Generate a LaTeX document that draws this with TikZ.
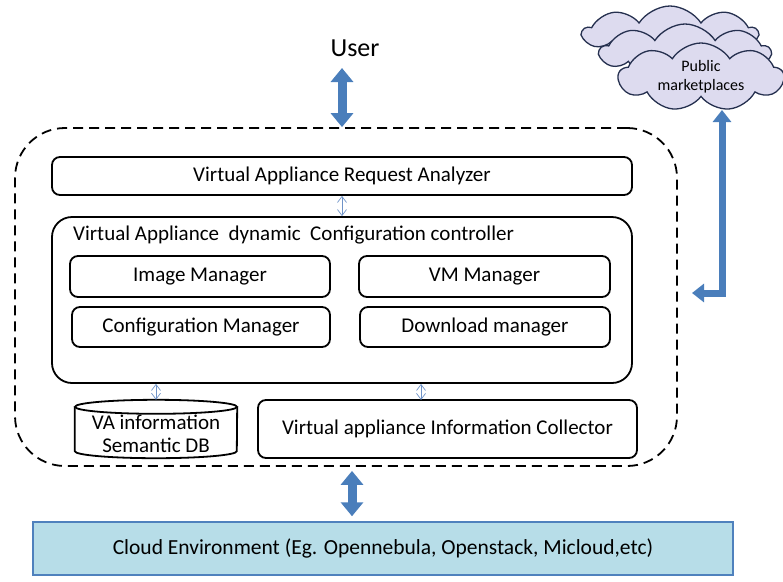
\documentclass[tikz,border=0pt]{standalone}
\usepackage{fontspec}
\setmainfont{Carlito}
\usetikzlibrary{arrows.meta, positioning, shapes.symbols, calc}
\definecolor{arrblue}{HTML}{4A7EBB}
\definecolor{thinblue}{HTML}{6F93C8}
\definecolor{envfill}{HTML}{B7DDE8}
\definecolor{envline}{HTML}{4F81BD}
\definecolor{cloudfill}{HTML}{DDDBEF}
\definecolor{cloudline}{HTML}{25304F}
\tikzset{
  box/.style={draw, line width=1.8pt, rounded corners=8pt, inner sep=0pt,
    font=\fontsize{21}{24}\selectfont},
  fat/.style={draw=arrblue, line width=9pt,
    {Triangle[width=22pt,length=14pt]}-{Triangle[width=22pt,length=14pt]}},
  fatside/.style={draw=arrblue, line width=7pt,
    {Triangle[width=18pt,length=12pt]}-{Triangle[width=18pt,length=12pt]}},
  thinarr/.style={draw=thinblue, line width=0.7pt,
    {Straight Barb[width=9pt,length=6pt]}-{Straight Barb[width=9pt,length=6pt]}},
  puff/.style={cloud, cloud puffs=9, cloud puff arc=115, cloud ignores aspect,
    draw=cloudline, line width=1.3pt, fill=cloudfill, inner sep=0pt}
}
\begin{document}
\begin{tikzpicture}[x=1pt,y=-1pt]
\useasboundingbox (0,0) rectangle (783,581);
    % user and outer frame
    \node[font=\fontsize{26}{30}\selectfont] (nuser) at (355,48) {User};
    \node[draw, dashed, dash pattern=on 10pt off 6pt, line width=1.8pt,
      rounded corners=50pt, minimum width=662, minimum height=338] (nframe) at (346,297) {};
    % analyzer and controller
    \node[box, minimum width=580, minimum height=38] (nanalyzer) at (342,176)
      {Virtual Appliance Request Analyzer};
    \node[box, rounded corners=20pt, minimum width=580, minimum height=166] (nctrl) at (342,300) {};
    \node[anchor=west, font=\fontsize{21}{24}\selectfont, inner sep=0pt] (ntitle) at (73,235)
      {Virtual Appliance~ dynamic~ Configuration controller};
    \node[box, minimum width=260, minimum height=41] (nimg) at (200,276.5) {Image Manager};
    \node[box, minimum width=251, minimum height=41] (nvm) at (484.5,276.5) {VM Manager};
    \node[box, minimum width=258, minimum height=40] (ncfg) at (201,327) {Configuration Manager};
    \node[box, minimum width=250, minimum height=40] (ndl) at (485,327) {Download manager};
    % database and collector
    \node[inner sep=0pt, minimum width=162, minimum height=58] (ndb) at (156,429) {};
    \draw[line width=1.8pt] ($(ndb.north west)+(0,7)$) -- ($(ndb.south west)+(0,-7)$)
      arc[start angle=180, end angle=0, x radius=81, y radius=7]
      -- ($(ndb.north east)+(0,7)$);
    \draw[line width=1.8pt] ($(ndb.north)+(0,7)$) ellipse [x radius=81, y radius=7];
    \node[align=center, font=\fontsize{21}{23}\selectfont, inner sep=0pt] (ndbtext)
      at ($(ndb.center)+(0,5)$) {VA information\\Semantic DB};
    \node[box, minimum width=379, minimum height=58] (ncoll) at (447.5,429)
      {Virtual appliance Information Collector};
    % cloud environment
    \node[draw=envline, line width=1.5pt, fill=envfill, minimum width=700, minimum height=53,
      font=\fontsize{21.5}{24}\selectfont] (nenv) at (383,548.5)
      {Cloud Environment (Eg. Opennebula, Openstack, Micloud,etc)};
    % public marketplaces
    \node[puff, minimum width=174, minimum height=54] (npub3) at (670,33) {};
    \node[puff, minimum width=170, minimum height=56] (npub2) at (685,52) {};
    \node[puff, minimum width=165, minimum height=68, align=center,
      font=\fontsize{16}{19}\selectfont] (npub) at (701,77) {Public\\marketplaces};
    % arrows
    \coordinate (cu) at (342,68);
    \draw[fat] (cu) -- (cu |- nframe.north);
    \coordinate (cb) at (352,470);
    \draw[fat, shorten <=4pt, shorten >=5pt] (cb |- nframe.south) -- (cb |- nenv.north);
    \coordinate (cr1) at (722,110);
    \coordinate (cr2) at (692,293);
    \draw[fatside] (cr1) |- (cr2);
    \draw[thinarr] (nanalyzer.south) -- (nctrl.north);
    \draw[thinarr] (ndb.north) -- (ndb.north |- nctrl.south);
    \coordinate (cc) at (421,400);
    \draw[thinarr] (cc) -- (cc |- nctrl.south);
\end{tikzpicture}
\end{document}
